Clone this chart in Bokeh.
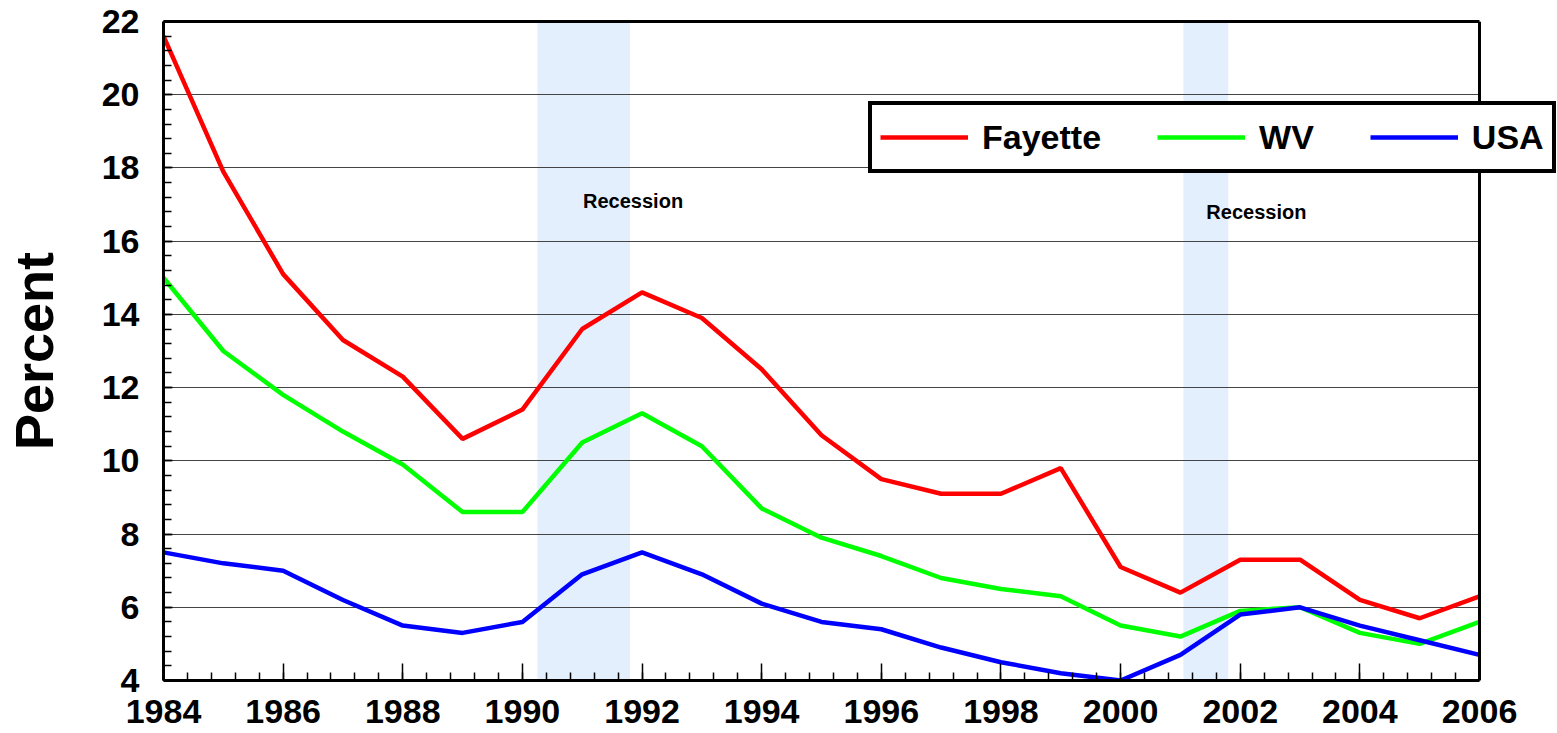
from bokeh.plotting import figure
from bokeh.models import Legend, LegendItem, SingleIntervalTicker, FixedTicker, Range1d, Span, LinearAxis
from bokeh.embed import file_html
from bokeh.resources import INLINE
from bokeh.core.properties import value

years = list(range(1984, 2007))
fayette = [21.6, 17.9, 15.1, 13.3, 12.3, 10.6, 11.4, 13.6, 14.6, 13.9, 12.5, 10.7,
           9.5, 9.1, 9.1, 9.8, 7.1, 6.4, 7.3, 7.3, 6.2, 5.7, 6.3]
wv = [15.0, 13.0, 11.8, 10.8, 9.9, 8.6, 8.6, 10.5, 11.3, 10.4, 8.7, 7.9,
      7.4, 6.8, 6.5, 6.3, 5.5, 5.2, 5.9, 6.0, 5.3, 5.0, 5.6]
usa = [7.5, 7.2, 7.0, 6.2, 5.5, 5.3, 5.6, 6.9, 7.5, 6.9, 6.1, 5.6,
       5.4, 4.9, 4.5, 4.2, 4.0, 4.7, 5.8, 6.0, 5.5, 5.1, 4.7]
series_names = ["Fayette", "WV", "USA"]
series_colors = ["#FF0000", "#00FF00", "#0000FF"]

recession_start = [1990.25, 2001.05]
recession_end = [1991.8, 2001.8]
recession_label_x = [1991.85, 2002.27]
recession_label_y = [17.1, 16.8]
recession_labels = ["Recession", "Recession"]

X_MIN, X_MAX = 1984, 2006
Y_MIN, Y_MAX = 4, 22
X_VIEW_MAX = 2007.304   # empty room right of the chart so the legend can overhang

FONT = "Liberation Sans"

p = figure(width=1557, height=733, x_range=Range1d(X_MIN, X_VIEW_MAX), y_range=Range1d(Y_MIN, Y_MAX),
           output_backend="svg", toolbar_location=None,
           min_border_left=163, min_border_right=0, min_border_top=21, min_border_bottom=53)

p.quad(left=recession_start, right=recession_end, bottom=Y_MIN, top=Y_MAX,
       fill_color="#E3EFFD", line_color=None, level="image")

p.text(x=recession_label_x, y=recession_label_y, text=recession_labels,
       text_font=value(FONT), text_font_style="bold", text_font_size="20px",
       text_align="center", text_baseline="middle", text_color="black")

renderers = []
for vals, col in zip([fayette, wv, usa], series_colors):
    r = p.line(years, vals, line_color=col, line_width=4.5)
    renderers.append(r)

legend = Legend(items=[LegendItem(label=n, renderers=[r]) for n, r in zip(series_names, renderers)],
                orientation="horizontal", location=(705, 507),
                label_text_font=FONT, label_text_font_size="34px", label_text_font_style="bold",
                label_text_color="black",
                glyph_width=88, glyph_height=22, label_height=48, label_standoff=14, spacing=56,
                padding=8, margin=0, border_line_width=4, border_line_color="black",
                border_line_alpha=1.0,
                background_fill_color="white", background_fill_alpha=1.0)
p.add_layout(legend, "center")

for ax in (p.xaxis, p.yaxis):
    ax.ticker = SingleIntervalTicker(interval=2, num_minor_ticks=5)
    ax.axis_line_width = 3
    ax.axis_line_color = "black"
    ax.major_tick_out = 0
    ax.minor_tick_out = 0
    ax.minor_tick_in = 8
    ax.major_tick_line_color = "black"
    ax.minor_tick_line_color = "black"
    ax.major_tick_line_width = 1.5
    ax.minor_tick_line_width = 1.5
    ax.major_label_text_font = FONT
    ax.major_label_text_font_size = "34px"
    ax.major_label_text_font_style = "bold"
    ax.major_label_text_color = "black"

p.xaxis.bounds = (X_MIN, X_MAX)
p.xaxis.major_tick_in = 17
p.yaxis.major_tick_in = 9
p.xaxis.major_label_standoff = 19
p.yaxis.major_label_standoff = 24

p.yaxis.axis_label = "Percent"
p.yaxis.axis_label_text_font = FONT
p.yaxis.axis_label_text_font_size = "54px"
p.yaxis.axis_label_text_font_style = "bold"
p.yaxis.axis_label_text_color = "black"
p.yaxis.axis_label_standoff = 35

# top frame line (limited to the chart's x extent)
top_axis = LinearAxis(bounds=(X_MIN, X_MAX), ticker=FixedTicker(ticks=[]),
                      axis_line_width=3, axis_line_color="black",
                      major_tick_in=0, major_tick_out=0, minor_tick_in=0, minor_tick_out=0,
                      major_label_standoff=0)
p.add_layout(top_axis, "above")

# right frame line at the last year
p.add_layout(Span(location=X_MAX, dimension="height", line_color="black", line_width=3))

p.xgrid.visible = False
p.ygrid.grid_line_color = "#444444"
p.ygrid.grid_line_width = 1
try:
    p.ygrid.cross_bounds = (X_MIN, X_MAX)
except Exception:
    p.ygrid.visible = False
    gy = list(range(Y_MIN + 2, Y_MAX, 2))
    p.segment(x0=[X_MIN] * len(gy), x1=[X_MAX] * len(gy), y0=gy, y1=gy,
              line_color="#444444", line_width=1, level="underlay")

p.outline_line_color = None

open("out.html", "w").write(file_html(p, INLINE))
